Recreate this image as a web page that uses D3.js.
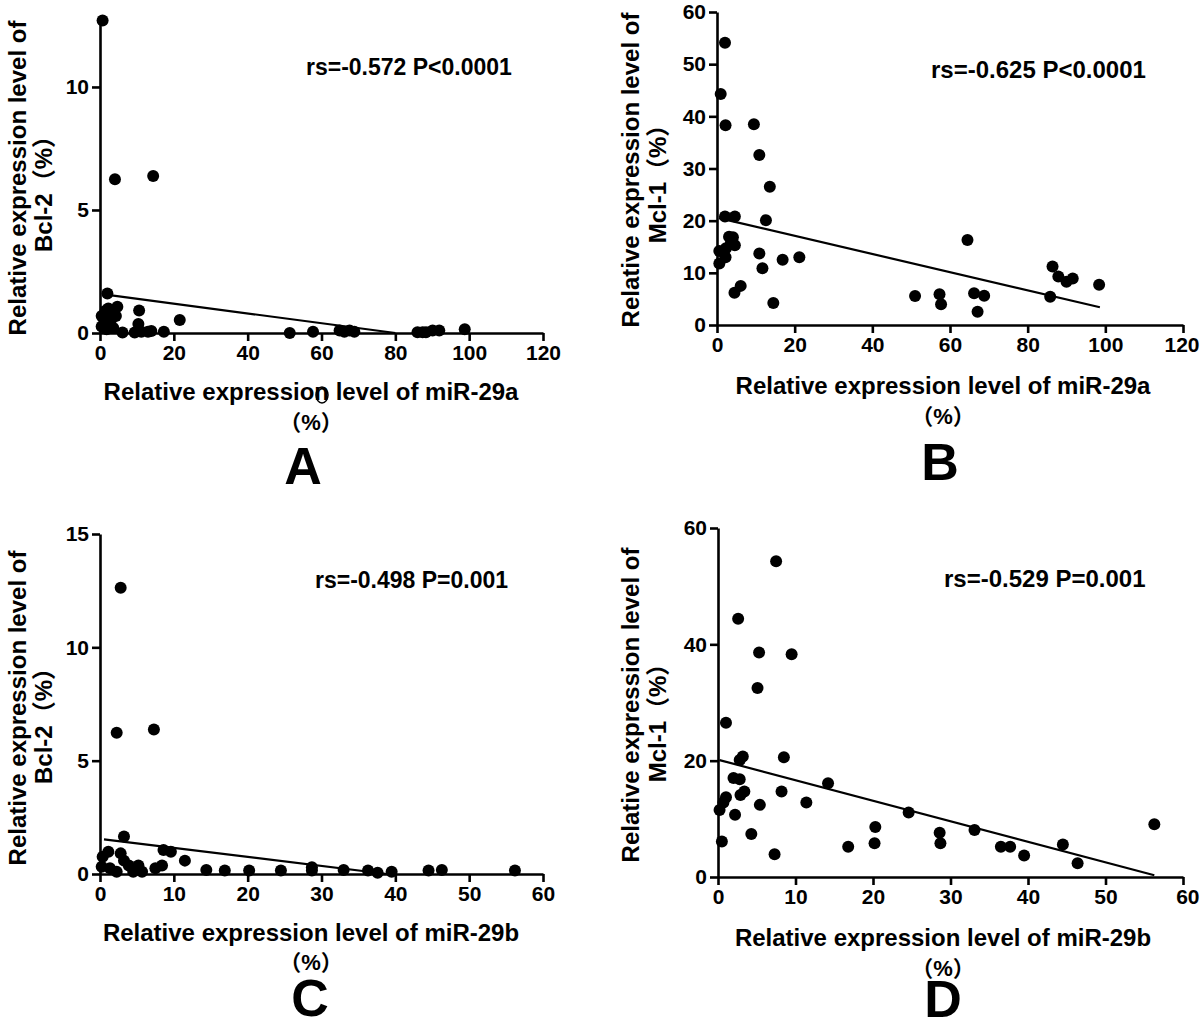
<!DOCTYPE html>
<html><head><meta charset="utf-8">
<script src="https://cdn.jsdelivr.net/npm/d3@7"></script>
<style>
html,body{margin:0;padding:0;background:#fff;}
svg{display:block;}
text{font-family:"Liberation Sans",Arial,"Noto Sans CJK SC",sans-serif;font-weight:bold;fill:#000;}
</style></head>
<body>
<svg id="chart" width="1200" height="1018"></svg>
<script>
// ---------- data ----------
const aPoints = [[0.7,12.7],[4.05,6.25],[14.4,6.38],[2.0,1.61],[2.25,1.0],[4.7,1.07],[10.6,0.91],[0.45,0.69],[4.3,0.69],[21.6,0.53],[0.45,0.26],[2.7,0.26],[10.4,0.37],[3.6,0.2],[6.1,0.02],[9.4,0.02],[11.2,0.05],[13.0,0.05],[13.9,0.08],[17.3,0.05],[1.5,0.9],[3.2,0.85],[1.2,0.45],[3.0,0.55],[1.8,0.15],[51.4,0],[57.7,0.05],[64.9,0.1],[66.2,0.05],[67.6,0.1],[68.9,0.05],[86.0,0.03],[87.4,0.03],[88.3,0.03],[90.1,0.1],[91.9,0.1],[98.8,0.15]];
const bPoints = [[2.06,54.1],[0.95,44.3],[2.2,38.3],[9.5,38.5],[10.9,32.6],[13.6,26.5],[2.06,20.8],[4.6,20.8],[12.6,20.1],[3.1,16.9],[4.1,16.8],[0.6,14.2],[2.3,14.7],[4.6,15.3],[2.2,13.0],[0.6,11.8],[10.9,13.7],[11.7,10.9],[16.9,12.5],[21.2,13.0],[4.5,6.2],[6.1,7.5],[14.5,4.2],[3.6,15.8],[64.5,16.3],[51.0,5.56],[57.3,5.9],[57.7,4.0],[66.2,6.1],[68.8,5.6],[67.1,2.55],[86.4,11.2],[87.9,9.3],[90.0,8.3],[91.6,8.9],[85.8,5.4],[98.4,7.7]];
const cPoints = [[2.8,12.63],[2.26,6.23],[7.3,6.38],[3.25,1.65],[1.13,0.98],[0.36,0.76],[2.8,0.91],[8.6,1.06],[9.6,0.98],[11.5,0.59],[3.25,0.59],[0.23,0.32],[1.35,0.25],[2.26,0.1],[3.9,0.37],[4.5,0.1],[5.2,0.37],[5.7,0.1],[7.5,0.25],[8.4,0.37],[14.4,0.18],[16.9,0.15],[20.2,0.15],[24.5,0.15],[28.7,0.15],[28.7,0.3],[33.0,0.18],[36.3,0.15],[37.6,0.05],[39.5,0.1],[44.5,0.15],[46.3,0.18],[56.2,0.15]];
const dPoints = [[7.5,54.3],[2.6,44.4],[5.3,38.6],[9.5,38.3],[5.1,32.5],[1.03,26.5],[3.2,20.7],[2.8,20.1],[8.5,20.6],[14.2,16.1],[2.0,17.0],[2.8,16.8],[8.2,14.7],[3.4,14.7],[2.9,14.1],[1.03,13.7],[0.7,12.8],[0.2,11.5],[5.4,12.4],[11.4,12.8],[2.2,10.7],[4.3,7.4],[0.5,6.1],[7.3,3.9],[16.8,5.2],[20.3,8.6],[20.2,5.8],[24.6,11.1],[28.6,7.6],[28.7,5.8],[33.1,8.1],[36.5,5.2],[37.7,5.2],[39.5,3.7],[44.5,5.6],[46.4,2.35],[56.3,9.05]];

const aFit = [[1.6,1.56],[80,0]];
const bFit = [[0.5,20.5],[98.6,3.4]];
const cFit = [[0.54,1.53],[38.9,0]];
const dFit = [[0.2,20.1],[56.3,0.3]];

const aXTicks = [0,20,40,60,80,100,120], aYTicks = [0,5,10];
const bXTicks = [0,20,40,60,80,100,120], bYTicks = [0,10,20,30,40,50,60];
const cXTicks = [0,10,20,30,40,50,60], cYTicks = [0,5,10,15];
const dXTicks = [0,10,20,30,40,50,60], dYTicks = [0,20,40,60];

const stats = ["rs=-0.572 P<0.0001","rs=-0.625 P<0.0001","rs=-0.498 P=0.001","rs=-0.529 P=0.001"];
const xTitles = ["Relative expression level of miR-29a","Relative expression level of miR-29a","Relative expression level of miR-29b","Relative expression level of miR-29b"];
const yTitle1 = "Relative expression level of";
const yTitles2 = ["Bcl-2（%）","Mcl-1（%）","Bcl-2（%）","Mcl-1（%）"];
const pctLabel = "（%）";
const letters = ["A","B","C","D"];

// ---------- layout ----------
const layout = [
  {pts:aPoints, fit:aFit, xt:aXTicks, yt:aYTicks, xd:[0,120], yd:[0,12.6], xr:[100,543], yr:[333,23],
   stat:[306,75], sfs:23, xTitle:[311,400], pct:[311,430], letter:[303,484], yt1:[17,178], yt2:[43,188], fs:24},
  {pts:bPoints, fit:bFit, xt:bXTicks, yt:bYTicks, xd:[0,120], yd:[0,60], xr:[717,1183], yr:[325,12],
   stat:[931,78], sfs:24, xTitle:[943,394], pct:[943,424], letter:[940,480], yt1:[630,170], yt2:[657,178], fs:24},
  {pts:cPoints, fit:cFit, xt:cXTicks, yt:cYTicks, xd:[0,60], yd:[0,15], xr:[100,543], yr:[874,534],
   stat:[315,588], sfs:23, xTitle:[311,941], pct:[311,970], letter:[310,1016], yt1:[17,708], yt2:[43,720], fs:24},
  {pts:dPoints, fit:dFit, xt:dXTicks, yt:dYTicks, xd:[0,60], yd:[0,60], xr:[718,1183], yr:[877,528],
   stat:[944,587], sfs:24, xTitle:[943,946], pct:[943,976], letter:[943,1017], yt1:[630,705], yt2:[657,717], fs:24}
];

const svg = d3.select("#chart");

layout.forEach((p, i) => {
  const g = svg.append("g");
  const x = d3.scaleLinear().domain(p.xd).range(p.xr);
  const y = d3.scaleLinear().domain(p.yd).range(p.yr);

  const xAxis = g.append("g").attr("transform", `translate(0,${p.yr[0]})`)
    .call(d3.axisBottom(x).tickValues(p.xt).tickSize(8).tickSizeOuter(0).tickPadding(4).tickFormat(d3.format("d")));
  const yAxis = g.append("g").attr("transform", `translate(${p.xr[0]},0)`)
    .call(d3.axisLeft(y).tickValues(p.yt).tickSize(8).tickSizeOuter(0).tickPadding(3).tickFormat(d3.format("d")));
  [xAxis, yAxis].forEach(ax => {
    ax.select(".domain").attr("stroke", "#000").attr("stroke-width", 2.6);
    ax.selectAll(".tick line").attr("stroke", "#000").attr("stroke-width", 2.6);
    ax.selectAll(".tick text").attr("font-size", 21).attr("font-family", '"Liberation Sans",Arial,sans-serif').attr("font-weight", "bold");
  });
  // keep the last x tick label inside the picture
  xAxis.selectAll(".tick:last-of-type text").attr("text-anchor", x(p.xt[p.xt.length-1]) > 1170 ? "end" : "middle")
    .attr("dx", x(p.xt[p.xt.length-1]) > 1170 ? 16 : 0);

  // fit line
  g.append("path").datum(p.fit)
    .attr("d", d3.line().x(d => x(d[0])).y(d => y(d[1])))
    .attr("stroke", "#000").attr("stroke-width", 2.2).attr("fill", "none");

  // points
  g.append("g").selectAll("circle").data(p.pts).join("circle")
    .attr("cx", d => x(d[0])).attr("cy", d => y(d[1])).attr("r", 6).attr("fill", "#000");

  // stats
  g.append("text").attr("x", p.stat[0]).attr("y", p.stat[1]).attr("font-size", p.sfs).text(stats[i]);

  // x titles
  g.append("text").attr("x", p.xTitle[0]).attr("y", p.xTitle[1]).attr("text-anchor", "middle")
    .attr("font-size", p.fs).text(xTitles[i]);
  g.append("text").attr("x", p.pct[0]).attr("y", p.pct[1]).attr("text-anchor", "middle")
    .attr("font-size", 22).attr("font-weight", "normal").text(pctLabel);
  g.append("text").attr("x", p.letter[0]).attr("y", p.letter[1]).attr("text-anchor", "middle")
    .attr("font-size", 52).text(letters[i]);

  // y titles
  g.append("text").attr("transform", `translate(${p.yt1[0]},${p.yt1[1]}) rotate(-90)`)
    .attr("text-anchor", "middle").attr("dominant-baseline", "central").attr("font-size", p.fs).text(yTitle1);
  g.append("text").attr("transform", `translate(${p.yt2[0]},${p.yt2[1]}) rotate(-90)`)
    .attr("text-anchor", "middle").attr("dominant-baseline", "central").attr("font-size", p.fs).text(yTitles2[i]);
});

// small circular artifact under panel A x title
svg.append("ellipse").attr("cx", 322).attr("cy", 395).attr("rx", 6).attr("ry", 8)
  .attr("fill", "none").attr("stroke", "#000").attr("stroke-width", 1.5);
</script>
</body></html>
